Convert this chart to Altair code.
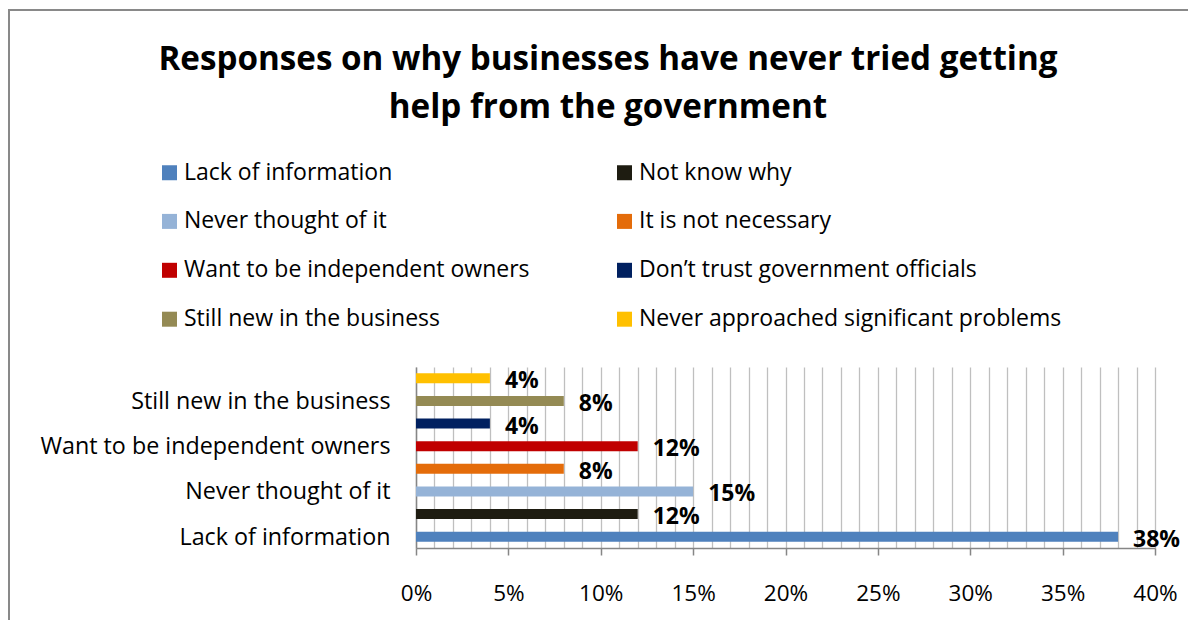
import altair as alt
import pandas as pd

categories = [
    "Lack of information",
    "Not know why",
    "Never thought of it",
    "It is not necessary",
    "Want to be independent owners",
    "Don\u2019t trust government officials",
    "Still new in the business",
    "Never approached significant problems",
]
values = [0.38, 0.12, 0.15, 0.08, 0.12, 0.04, 0.08, 0.04]
colors = ["#4f81bd", "#1e1c11", "#95b3d7", "#e46c0a", "#c00000", "#002060", "#948a54", "#ffc000"]
axis_labels = ["Lack of information", "Never thought of it",
               "Want to be independent owners", "Still new in the business"]
title_lines = ["Responses on why businesses have never tried getting", "help from the government"]

df = pd.DataFrame({"reason": categories, "share": values})

# legend fills column by column: reorder so rows read like the reference
legend_order = categories[0::2] + categories[1::2]
legend_colors = [colors[categories.index(c)] for c in legend_order]

FONT = "Open Sans"
label_list = "[" + ",".join("'" + s + "'" for s in axis_labels) + "]"

y_enc = alt.Y(
    "reason:N",
    sort=categories[::-1],
    scale=alt.Scale(paddingInner=0.56, paddingOuter=0.28),
    axis=alt.Axis(
        title=None, ticks=False, domainColor="#868686", domainWidth=1.5,
        labelFont=FONT, labelFontSize=23.3, labelColor="#000000", labelPadding=26,
        labelExpr=f"indexof({label_list}, datum.value) >= 0 ? datum.value : ''",
        labelLimit=600, labelOffset=1,
    ),
)
x_enc = alt.X(
    "share:Q",
    scale=alt.Scale(domain=[0, 0.4], nice=False),
    axis=alt.Axis(
        title=None, tickCount=40, grid=True, gridColor="#bfbfbf", gridWidth=1.3,
        domainColor="#868686", domainWidth=1.5, tickColor="#868686", tickWidth=1.5, tickSize=7,
        tickOpacity={"condition": {"test": "round(datum.value*100) % 5 === 0", "value": 1}, "value": 0},
        labelExpr="round(datum.value*100) % 5 === 0 ? format(datum.value, '.0%') : ''",
        labelFont=FONT, labelFontSize=22.5, labelColor="#000000", labelPadding=27,
        labelFlush=False,
    ),
)

bars = alt.Chart(df).mark_bar().encode(
    x=x_enc,
    y=y_enc,
    color=alt.Color(
        "reason:N",
        scale=alt.Scale(domain=legend_order, range=legend_colors),
        legend=alt.Legend(
            title=None, orient="none", legendX=-258, legendY=-206, columns=2,
            symbolType="square", symbolSize=225, symbolStrokeWidth=0,
            labelFont=FONT, labelFontSize=23, labelColor="#000000", labelOffset=3,
            rowPadding=24.9, columnPadding=83, padding=0, labelLimit=600,
        ),
    ),
)

labels = alt.Chart(df).mark_text(
    align="left", baseline="middle", dx=15, dy=3, font=FONT, fontSize=23,
    fontWeight="bold", color="#000000",
).encode(
    x="share:Q",
    y=alt.Y("reason:N", sort=categories[::-1]),
    text=alt.Text("share:Q", format=".0%"),
)

frame = alt.Chart(pd.DataFrame({"f": [0]})).mark_rect(
    fill=None, stroke="#898989", strokeWidth=2
).encode(
    x=alt.value(-407), x2=alt.value(2000), y=alt.value(-357), y2=alt.value(2000)
)

chart = alt.layer(frame, bars, labels).properties(
    width=739, height=181,
    padding={"left": 408, "top": 359, "right": 33, "bottom": 72},
    autosize=alt.AutoSizeParams(type="none"),
    title=alt.TitleParams(
        text=title_lines, font=FONT, fontSize=33.2, fontWeight="bold", color="#000000",
        anchor="middle", frame="group", dx=-177.5, offset=-142, baseline="alphabetic",
        lineHeight=48,
    ),
).configure_view(stroke=None)

chart.save("out.html", embed_options={"renderer": "svg", "actions": False})
